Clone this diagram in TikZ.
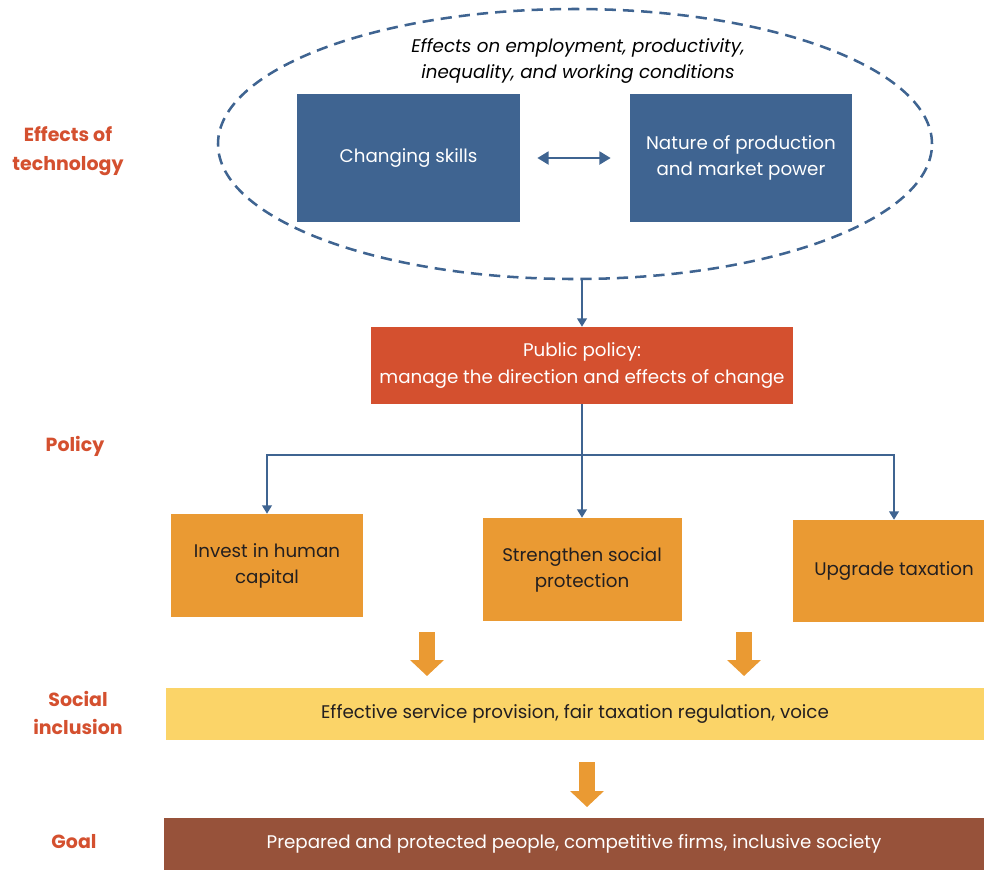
\documentclass[tikz,border=0pt]{standalone}
\usepackage{fontspec}
\setmainfont{Poppins}
\usetikzlibrary{shapes.geometric,arrows.meta,positioning,calc}

\definecolor{techblue}{HTML}{3F6491}
\definecolor{policyred}{HTML}{D4502F}
\definecolor{actionorange}{HTML}{EA9A33}
\definecolor{inclusionyellow}{HTML}{FBD468}
\definecolor{goalbrown}{HTML}{97523A}
\definecolor{bodytext}{HTML}{231F20}

\begin{document}
\begin{tikzpicture}[
    font=\fontsize{13}{18.5}\selectfont,
    level/.style={font=\fontsize{13.5}{20.5}\selectfont\bfseries, text=policyred, align=center},
    techbox/.style={rectangle, fill=techblue, text=white, minimum width=5.575cm, minimum height=3.2cm, align=center},
    policybox/.style={rectangle, fill=policyred, text=white, minimum width=10.55cm, minimum height=1.925cm, align=center},
    actionbox/.style={rectangle, fill=actionorange, text=bodytext, minimum width=4.9cm, minimum height=2.575cm, align=center},
    band/.style={rectangle, minimum width=20.45cm, minimum height=1.3cm, align=center},
    link/.style={-{Triangle[width=7pt,length=6pt]}, draw=techblue, line width=1.1pt},
    twoway/.style={{Triangle[width=9pt,length=8pt]}-{Triangle[width=9pt,length=8pt]}, draw=techblue, line width=2pt},
    blockarrow/.style={-{Triangle[width=0.825cm,length=0.4cm]}, draw=actionorange, line width=0.4cm}
]
\useasboundingbox (0,0) rectangle (24.6,-21.75);

% Row labels on the left
\node[level] (lbl_tech) at (1.7,-3.775) {Effects of\\technology};
\node[level] (lbl_policy) at (1.875,-11.15) {Policy};
\node[level] (lbl_social) at (1.95,-17.825) {Social\\inclusion};
\node[level] (lbl_goal) at (1.85,-21.05) {Goal};

% Effects of technology
\node[ellipse, draw=techblue, line width=1.8pt, dash pattern=on 8pt off 5pt,
      minimum width=17.85cm, minimum height=6.75cm] (effects) at (14.375,-3.6) {};
\node[font=\fontsize{13}{18.5}\selectfont\itshape, align=center] (effects_txt) at (14.45,-1.525)
    {Effects on employment, productivity,\\inequality, and working conditions};

\node[techbox] (skills) at (10.2125,-3.95) {\raisebox{3pt}{Changing skills}};
\node[techbox, minimum width=5.55cm] (market) at (18.525,-3.95) {Nature of production\\and market power};

\draw[twoway, shorten <=0.425cm, shorten >=0.475cm] (skills.east) -- (market.west);

% Public policy
\node[policybox] (policy) at (14.55,-9.1375) {Public policy:\\manage the direction and effects of change};
\draw[link] (policy.north |- effects.south) -- (policy.north);

\node[actionbox, minimum width=4.8cm] (capital) at (6.675,-14.1375) {Invest in human\\capital};
\node[actionbox, minimum width=4.975cm] (protection) at (14.55,-14.2375) {Strengthen social\\protection};
\node[actionbox, minimum width=5.05cm, minimum height=2.55cm] (taxation) at (22.35,-14.275) {Upgrade taxation};

\coordinate (bus) at (14.55,-11.375);
\draw[link] (policy.south) -- (protection.north);
\draw[link] (bus) -| (capital.north);
\draw[link] (bus) -| (taxation.north);

% Social inclusion
\coordinate (fat_left_top) at (10.675,-15.8);
\coordinate (fat_left_tip) at (10.675,-16.9);
\coordinate (fat_right_top) at (18.6,-15.8);
\coordinate (fat_right_tip) at (18.6,-16.9);
\draw[blockarrow] (fat_left_top) -- (fat_left_tip);
\draw[blockarrow] (fat_right_top) -- (fat_right_tip);

\node[band, fill=inclusionyellow, text=bodytext] (inclusion) at (14.375,-17.85)
    {Effective service provision, fair taxation regulation, voice};

% Goal
\coordinate (fat_goal_top) at (14.675,-19.05);
\coordinate (fat_goal_tip) at (14.675,-20.175);
\draw[blockarrow] (fat_goal_top) -- (fat_goal_tip);

\node[band, fill=goalbrown, text=white, minimum width=20.5cm] (goal) at (14.35,-21.1)
    {Prepared and protected people, competitive firms, inclusive society};

\end{tikzpicture}
\end{document}
